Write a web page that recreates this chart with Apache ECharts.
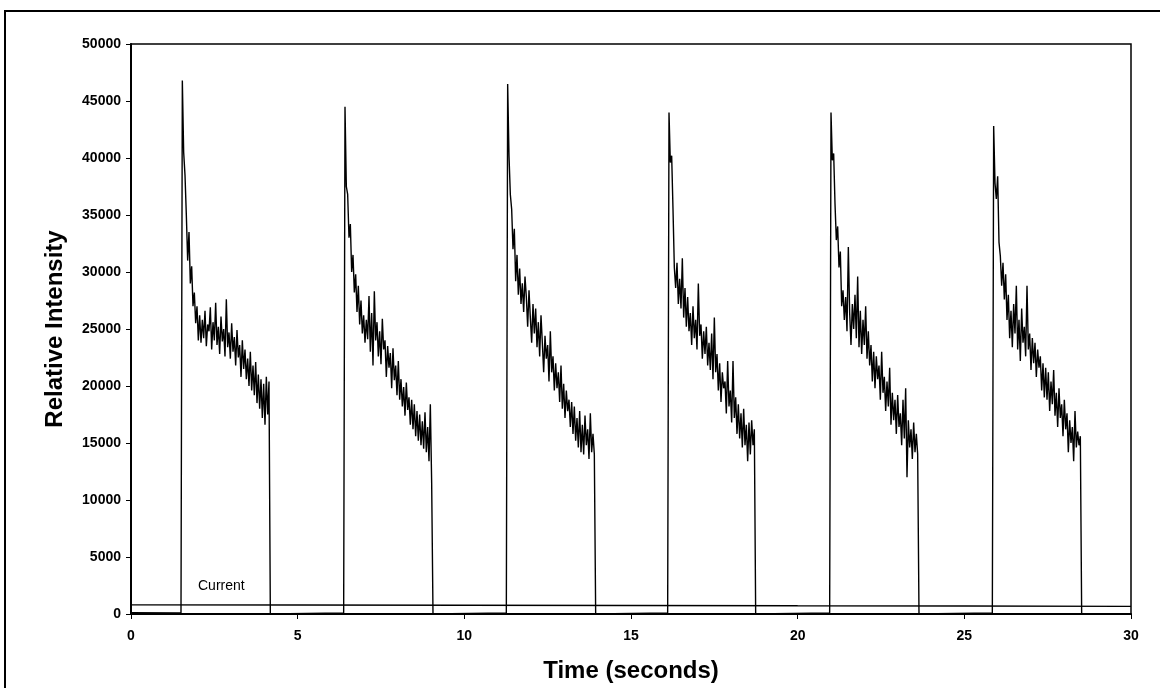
<!DOCTYPE html>
<html>
<head>
<meta charset="utf-8">
<script src="https://cdn.jsdelivr.net/npm/echarts@6/dist/echarts.min.js"></script>
<style>
html, body { margin: 0; padding: 0; background: #fff; }
#chart { width: 1160px; height: 688px; }
</style>
</head>
<body>
<div id="chart"></div>
<script>
// sampling of the detector trace (seconds between points)
var sampleStep = 0.04;
var pulseStarts = [1.50, 6.38, 11.26, 16.10, 20.96, 25.84];

var pulse1 = [100, 46800, 40500, 38500, 35000, 31000, 33500, 29000, 30500, 27000, 28200,
	25500, 27000, 24000, 26200, 23800, 25800, 24200, 26600, 23500, 25400,
	24800, 26900, 23200, 25600, 24000, 27300, 23600, 25200, 22800, 26100,
	23900, 25000, 22600, 27600, 23400, 24700, 22400, 25500, 23000, 24300,
	21800, 24900, 22500, 23600, 20800, 24000, 21500, 23200, 20600, 22400,
	20000, 23000, 19600, 21800, 19200, 22100, 18500, 21000, 18000, 20600,
	17200, 20200, 16600, 20800, 17500, 20400, 0];
var pulse2 = [100, 44500, 37500, 36800, 33000, 34200, 30000, 31500, 28200, 29800, 26500,
	28800, 25400, 27500, 24600, 26200, 23800, 25800, 24100, 27900, 23000,
	26400, 21800, 28300, 24000, 25600, 22600, 24800, 21900, 25900, 23200,
	24000, 20800, 23500, 21600, 22900, 19800, 23300, 20500, 21800, 19200,
	22200, 18800, 20600, 18200, 19900, 17400, 20300, 17900, 19000, 16600,
	18800, 16200, 18400, 15600, 17800, 15200, 17500, 14800, 16900, 14500,
	17700, 14200, 16400, 13400, 18400, 11500, 0];
var pulse3 = [100, 46500, 40200, 36800, 35500, 32000, 33800, 29200, 31500, 28000, 30300,
	27200, 29000, 26500, 29600, 27800, 25200, 28400, 26000, 23800, 27200,
	24600, 26800, 23400, 25600, 22600, 26200, 23800, 21200, 24400, 22400,
	23600, 20400, 24800, 21200, 22600, 19600, 22000, 19800, 21200, 18600,
	21800, 18000, 20200, 17200, 19600, 17800, 18800, 16400, 18600, 15800,
	18200, 15200, 17200, 14600, 17800, 14200, 16600, 14000, 17400, 14800,
	16200, 13600, 17600, 14200, 15800, 14000, 0];
var pulse4 = [100, 44000, 39600, 40200, 35500, 30400, 28600, 30800, 27200, 29400, 26800,
	31200, 26000, 28600, 25200, 27800, 24800, 26400, 23600, 27000, 24200,
	25800, 23200, 29000, 24400, 25400, 22400, 24800, 22800, 25200, 21800,
	23800, 21400, 24600, 20600, 26000, 21200, 22800, 19600, 22000, 18600,
	21200, 19800, 20400, 17600, 22200, 18200, 19600, 16800, 22200, 17200,
	19000, 15800, 18400, 15400, 17600, 14600, 18000, 14800, 16600, 13400,
	16800, 14000, 17000, 14800, 16200, 0];
var pulse5 = [100, 44000, 39800, 40400, 36000, 32800, 34000, 30400, 31800, 27000, 28400,
	25800, 27800, 24800, 32200, 26400, 23600, 27200, 25000, 28000, 24200,
	29600, 23400, 26600, 22800, 25800, 23600, 27000, 22400, 24800, 21800,
	23600, 20400, 23000, 19800, 22600, 20600, 21800, 18800, 23000, 19400,
	20800, 17800, 20400, 18200, 21600, 16600, 19400, 17000, 18800, 15800,
	19200, 16400, 17600, 14800, 18800, 15400, 19800, 12000, 17000, 14600,
	16200, 13600, 16800, 14200, 15800, 14000, 0];
var pulse6 = [100, 42800, 37800, 36400, 38400, 32600, 31400, 28800, 30800, 27600, 29800,
	25800, 28000, 24200, 26600, 23400, 27200, 24600, 28800, 23200, 25800,
	22200, 26800, 23800, 25200, 22600, 28800, 23200, 24600, 21400, 24200,
	22000, 23800, 20800, 23200, 21600, 22600, 19600, 22000, 19000, 21600,
	18800, 21200, 17800, 20400, 18400, 21400, 17400, 19400, 16400, 19800,
	17200, 18400, 15600, 18800, 16200, 17600, 14200, 17000, 15000, 16400,
	13400, 17800, 14600, 16000, 14800, 15600, 0];
var pulses = [pulse1, pulse2, pulse3, pulse4, pulse5, pulse6];

var currentTimes = [0, 5, 10, 15, 20, 25, 30];
var currentValues = [800, 790, 770, 750, 720, 700, 670];

var xTicks = [0, 30, 5];
var yTicks = [0, 50000, 5000];

function buildTrace() {
	var out = [[0, 120]];
	pulses.forEach(function (vals, p) {
		vals.forEach(function (v, i) {
			out.push([+(pulseStarts[p] + i * sampleStep).toFixed(3), v]);
		});
	});
	out.push([30, 0]);
	return out;
}

var chart = echarts.init(document.getElementById('chart'), null, { renderer: 'canvas' });
var option = {
	animation: false,
	backgroundColor: '#fff',
	textStyle: { fontFamily: 'Liberation Sans, Arial, sans-serif', color: '#000' },
	graphic: [{
		type: 'rect',
		shape: { x: 5, y: 11, width: 1200, height: 800 },
		style: { fill: 'none', stroke: '#000', lineWidth: 2 }
	}, {
		type: 'text',
		left: 198,
		top: 579,
		style: { text: 'Current', fontSize: 14, fontFamily: 'Liberation Sans, Arial, sans-serif', fill: '#000' }
	}],
	grid: {
		left: 131, right: 29, top: 44, bottom: 72,
		show: true, borderColor: '#000', borderWidth: 1.5
	},
	xAxis: {
		type: 'value',
		min: xTicks[0], max: xTicks[1], interval: xTicks[2],
		name: 'Time (seconds)',
		nameLocation: 'middle',
		nameGap: 45,
		nameTextStyle: { fontSize: 24, fontWeight: 'bold', color: '#000' },
		axisLine: { lineStyle: { color: '#000', width: 2 } },
		axisTick: { length: 5, lineStyle: { color: '#000' } },
		axisLabel: { margin: 15, fontSize: 14, fontWeight: 'bold', color: '#000' },
		splitLine: { show: false }
	},
	yAxis: {
		type: 'value',
		min: yTicks[0], max: yTicks[1], interval: yTicks[2],
		name: 'Relative Intensity',
		nameLocation: 'middle',
		nameGap: 64,
		nameTextStyle: { fontSize: 24, fontWeight: 'bold', color: '#000' },
		axisLine: { show: true, lineStyle: { color: '#000', width: 2 } },
		axisTick: { show: true, length: 5, lineStyle: { color: '#000' } },
		axisLabel: {
			margin: 10, fontSize: 14, fontWeight: 'bold', color: '#000',
			formatter: function (v) { return String(v); }
		},
		splitLine: { show: false }
	},
	series: [{
		name: 'Intensity',
		type: 'line',
		showSymbol: false,
		data: buildTrace(),
		lineStyle: { color: '#000', width: 1.4 }
	}, {
		name: 'Current',
		type: 'line',
		showSymbol: false,
		data: currentTimes.map(function (t, i) { return [t, currentValues[i]]; }),
		lineStyle: { color: '#000', width: 1.4 }
	}]
};
chart.setOption(option);
</script>
</body>
</html>
